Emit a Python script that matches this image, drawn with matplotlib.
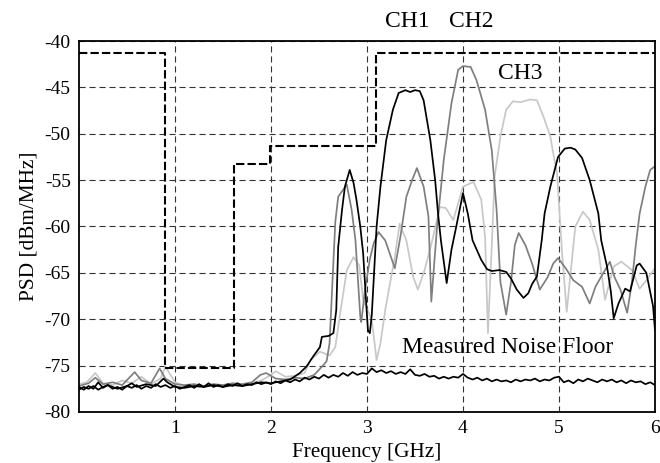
import matplotlib
matplotlib.use("Agg")
import matplotlib.pyplot as plt

plt.rcParams['font.family'] = ['Liberation Serif', 'DejaVu Serif']
plt.rcParams['axes.unicode_minus'] = False

# spectral mask (step limits)
mask_f = [0.0, 0.9, 0.9, 1.61, 1.61, 1.99, 1.99, 3.09, 3.09, 6.0]
mask_p = [-41.3, -41.3, -75.3, -75.3, -53.3, -53.3, -51.3, -51.3, -41.3, -41.3]

# measured noise floor
noise_f = [0.00, 0.05, 0.10, 0.15, 0.20, 0.25, 0.30, 0.35, 0.40, 0.45, 0.50, 0.55,
           0.60, 0.65, 0.70, 0.75, 0.80, 0.85, 0.90, 0.95, 1.00, 1.05, 1.10, 1.15,
           1.20, 1.25, 1.30, 1.35, 1.40, 1.45, 1.50, 1.55, 1.60, 1.65, 1.70, 1.75,
           1.80, 1.85, 1.90, 1.95, 2.00, 2.05, 2.10, 2.15, 2.20, 2.25, 2.30, 2.35,
           2.40, 2.45, 2.50, 2.55, 2.60, 2.65, 2.70, 2.75, 2.80, 2.85, 2.90, 2.95,
           3.00, 3.05, 3.10, 3.15, 3.20, 3.25, 3.30, 3.35, 3.40, 3.45, 3.50, 3.55,
           3.60, 3.65, 3.70, 3.75, 3.80, 3.85, 3.90, 3.95, 4.00, 4.05, 4.10, 4.15,
           4.20, 4.25, 4.30, 4.35, 4.40, 4.45, 4.50, 4.55, 4.60, 4.65, 4.70, 4.75,
           4.80, 4.85, 4.90, 4.95, 5.00, 5.05, 5.10, 5.15, 5.20, 5.25, 5.30, 5.35,
           5.40, 5.45, 5.50, 5.55, 5.60, 5.65, 5.70, 5.75, 5.80, 5.85, 5.90, 5.95,
           6.00]
noise_p = [-77.6, -77.3, -77.5, -77.2, -77.6, -77.3, -77.1, -77.5, -77.3, -77.6,
           -77.2, -77.4, -77.1, -77.5, -77.2, -77.4, -77.0, -77.3, -77.1, -77.4,
           -77.2, -77.5, -77.3, -77.1, -77.4, -77.0, -77.3, -76.9, -77.3, -77.1,
           -77.3, -77.0, -77.2, -76.9, -77.2, -77.0, -77.1, -76.8, -77.0, -76.8,
           -77.0, -76.7, -76.9, -76.6, -76.8, -76.5, -76.7, -76.3, -76.5, -76.2,
           -76.4, -76.0, -76.3, -76.0, -76.2, -75.8, -76.1, -75.7, -76.0, -75.8,
           -75.9, -75.3, -75.7, -75.5, -75.8, -75.6, -75.9, -75.7, -75.9, -75.4,
           -76.0, -76.1, -75.9, -76.2, -76.1, -76.4, -76.2, -76.4, -76.2, -76.3,
           -75.9, -76.3, -76.5, -76.3, -76.6, -76.4, -76.7, -76.5, -76.7, -76.6,
           -76.8, -76.5, -76.7, -76.5, -76.6, -76.4, -76.7, -76.5, -76.6, -76.3,
           -76.2, -76.8, -76.6, -76.9, -76.5, -76.7, -76.4, -76.6, -76.8, -76.5,
           -76.7, -76.5, -76.8, -76.6, -76.9, -76.6, -76.8, -76.7, -77.0, -76.8,
           -77.1]

# CH1 (black)
ch1_f = [0.0, 0.05, 0.1, 0.15, 0.2, 0.25, 0.3, 0.4, 0.5, 0.55, 0.6, 0.7, 0.8,
         0.88, 0.92, 1.0, 1.1, 1.2, 1.3, 1.4, 1.5, 1.6, 1.7, 1.8, 1.9, 2.0, 2.1,
         2.2, 2.3, 2.37, 2.44, 2.51, 2.53, 2.6, 2.65, 2.68, 2.70, 2.74, 2.77,
         2.82, 2.86, 2.89, 2.93, 2.96, 2.99, 3.01, 3.03, 3.05, 3.10, 3.14, 3.20,
         3.27, 3.33, 3.40, 3.45, 3.50, 3.55, 3.59, 3.66, 3.71, 3.74, 3.77, 3.83,
         3.88, 3.93, 4.00, 4.05, 4.10, 4.19, 4.25, 4.30, 4.38, 4.45, 4.50, 4.56,
         4.63, 4.68, 4.72, 4.77, 4.82, 4.85, 4.91, 4.99, 5.06, 5.12, 5.17, 5.24,
         5.32, 5.41, 5.44, 5.50, 5.54, 5.57, 5.62, 5.69, 5.74, 5.81, 5.84, 5.91,
         5.98, 6.0]
ch1_p = [-77.3, -77.6, -77.2, -77.5, -76.8, -77.4, -77.1, -77.5, -77.2, -76.9,
         -77.3, -77.0, -77.2, -76.4, -76.8, -77.3, -77.4, -77.2, -77.3, -77.1,
         -77.3, -77.1, -77.2, -77.0, -76.8, -76.9, -76.7, -76.5, -75.8, -75.1,
         -74.0, -73.0, -71.9, -71.8, -71.5, -69.0, -62.2, -58.2, -55.7, -53.9,
         -55.3, -57.1, -60.0, -62.9, -68.0, -71.2, -71.5, -69.5, -60.0, -55.7,
         -50.7, -47.4, -45.6, -45.3, -45.5, -45.3, -45.4, -46.4, -50.7, -55.0,
         -58.6, -61.5, -66.1, -62.5, -60.0, -56.4, -58.6, -61.5, -63.6, -64.6,
         -64.8, -64.7, -64.9, -65.6, -66.8, -67.7, -67.2, -66.2, -65.4, -61.5,
         -58.6, -55.7, -52.5, -51.6, -51.5, -51.7, -52.6, -55.0, -58.6, -61.5,
         -64.3, -67.0, -69.9, -68.3, -66.7, -67.0, -64.2, -64.0, -65.0, -68.6,
         -71.2]

# CH2 (dark grey)
ch2_f = [0.0, 0.1, 0.17, 0.25, 0.35, 0.45, 0.58, 0.65, 0.75, 0.84, 0.9, 1.0,
         1.1, 1.2, 1.3, 1.4, 1.5, 1.6, 1.7, 1.8, 1.89, 1.95, 2.05, 2.15, 2.25,
         2.35, 2.45, 2.55, 2.58, 2.61, 2.64, 2.67, 2.70, 2.74, 2.79, 2.84, 2.88,
         2.93, 2.94, 2.98, 3.03, 3.07, 3.12, 3.19, 3.24, 3.29, 3.35, 3.41, 3.47,
         3.52, 3.59, 3.64, 3.67, 3.73, 3.80, 3.88, 3.95, 4.00, 4.08, 4.14, 4.23,
         4.30, 4.35, 4.39, 4.45, 4.50, 4.54, 4.58, 4.65, 4.72, 4.80, 4.88, 4.94,
         4.99, 5.07, 5.15, 5.24, 5.32, 5.38, 5.44, 5.53, 5.58, 5.64, 5.71, 5.76,
         5.80, 5.84, 5.90, 5.95, 6.0]
ch2_p = [-77.2, -76.9, -76.3, -77.0, -76.8, -77.1, -75.7, -76.6, -76.9, -75.3,
         -76.4, -77.0, -77.1, -77.0, -77.2, -77.0, -77.1, -76.9, -77.0, -76.8,
         -76.0, -75.8, -76.4, -76.5, -76.3, -76.4, -76.0, -74.9, -74.5, -72.6,
         -66.0, -59.5, -56.8, -56.2, -55.5, -58.2, -61.5, -69.7, -70.3, -66.8,
         -63.5, -61.8, -60.6, -61.5, -63.0, -64.5, -61.0, -56.8, -55.0, -53.7,
         -55.7, -58.9, -68.1, -60.0, -52.8, -46.7, -43.1, -42.7, -42.8, -44.2,
         -47.4, -51.8, -58.2, -66.0, -69.5, -66.0, -62.0, -60.7, -62.0, -64.0,
         -66.8, -65.5, -64.0, -63.4, -64.5, -65.8, -66.5, -68.3, -66.5, -65.4,
         -63.8, -65.5, -66.8, -69.3, -66.0, -62.0, -58.6, -55.7, -53.9, -53.5]

# CH3 (light grey)
ch3_f = [0.0, 0.08, 0.17, 0.25, 0.35, 0.45, 0.55, 0.65, 0.75, 0.85, 0.9, 1.0,
         1.1, 1.2, 1.3, 1.4, 1.5, 1.6, 1.7, 1.8, 1.9, 2.0, 2.05, 2.15, 2.25,
         2.35, 2.41, 2.51, 2.61, 2.67, 2.72, 2.79, 2.86, 2.92, 2.96, 3.05, 3.10,
         3.14, 3.19, 3.24, 3.29, 3.34, 3.41, 3.48, 3.53, 3.60, 3.68, 3.76, 3.82,
         3.90, 4.00, 4.11, 4.19, 4.23, 4.26, 4.30, 4.33, 4.39, 4.45, 4.52, 4.60,
         4.70, 4.77, 4.84, 4.91, 4.94, 4.98, 5.01, 5.03, 5.08, 5.17, 5.25, 5.32,
         5.41, 5.48, 5.57, 5.65, 5.76, 5.84, 5.91, 6.0]
ch3_p = [-77.0, -76.8, -75.8, -76.9, -77.1, -76.6, -76.9, -76.2, -77.0, -76.4,
         -75.1, -76.8, -77.2, -77.1, -77.3, -77.0, -77.2, -77.0, -77.1, -76.9,
         -76.6, -76.0, -75.6, -76.2, -76.1, -75.8, -74.4, -73.5, -73.9, -73.0,
         -69.4, -64.7, -63.3, -64.2, -67.9, -70.1, -74.4, -72.6, -69.0, -66.1,
         -63.3, -59.7, -61.5, -65.4, -66.8, -64.7, -61.5, -57.9, -58.0, -59.3,
         -55.7, -55.2, -57.1, -61.1, -71.5, -62.0, -54.6, -50.3, -47.4, -46.5,
         -46.6, -46.3, -46.4, -48.2, -50.3, -52.1, -54.3, -59.3, -62.5, -69.2,
         -60.0, -58.4, -59.3, -62.5, -67.9, -64.3, -63.8, -64.7, -66.7, -65.8,
         -64.5]

fig = plt.figure(figsize=(6.6, 4.63), dpi=100)
ax = fig.add_axes([0.1197, 0.1102, 0.8727, 0.8012])

ax.plot(ch3_f, ch3_p, color='#c8c8c8', lw=1.25)
ax.plot(ch2_f, ch2_p, color='#7f7f7f', lw=1.25)
ax.plot(ch1_f, ch1_p, color='black', lw=1.25)
ax.plot(noise_f, noise_p, color='black', lw=1.25)
ax.plot(mask_f, mask_p, color='black', lw=1.5, ls=(0, (4, 1.5)))

ax.set_xlim(0, 6)
ax.set_ylim(-80, -40)
ax.set_xticks([1, 2, 3, 4, 5, 6])
ax.set_yticks(range(-80, -39, 5))
ax.tick_params(labelsize=14, length=0, pad=6)
ax.grid(True, color='#333333', ls=(0, (5.5, 3.5)), lw=0.8)
for s in ax.spines.values():
    s.set_linewidth(1.3)

ax.set_xlabel('Frequency [GHz]', fontsize=15.3)
ax.set_ylabel('PSD [dBm/MHz]', fontsize=15.3)

ax.text(3.42, -37.9, 'CH1', fontsize=17, ha='center', va='center', clip_on=False)
ax.text(4.09, -37.9, 'CH2', fontsize=17, ha='center', va='center', clip_on=False)
ax.text(4.6, -43.5, 'CH3', fontsize=17, ha='center', va='center')
ax.text(4.47, -73.0, 'Measured Noise Floor', fontsize=17, ha='center', va='center')

fig.savefig('out.png', dpi=100)
